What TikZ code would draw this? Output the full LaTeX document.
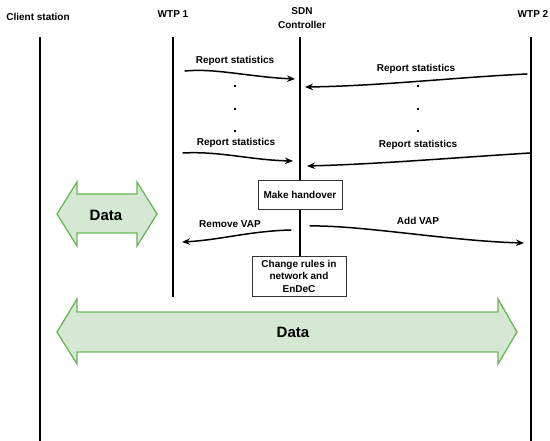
\documentclass[tikz,border=0pt]{standalone}
\usepackage{fontspec}
\setmainfont{Liberation Sans}
\usetikzlibrary{arrows.meta}

\definecolor{datafill}{RGB}{213,232,212}
\definecolor{dataline}{RGB}{106,182,87}

\begin{document}
\begin{tikzpicture}[
    x=1pt, y=-1pt,
    >={Stealth[length=8pt, width=6.5pt]},
    actor/.style={font=\fontsize{10}{14}\selectfont\bfseries, align=center},
    lifeline/.style={line width=1.6pt},
    msg/.style={->, line width=1.5pt, line cap=round},
    lbl/.style={font=\fontsize{10}{12}\selectfont\bfseries},
    proc/.style={draw=black!80, line width=0.8pt, fill=white, inner sep=0pt,
                 font=\fontsize{10}{12.5}\selectfont\bfseries, align=center},
    dot/.style={fill, inner sep=0pt, minimum size=2.6pt},
    dataarrow/.style={draw=dataline, line width=1.3pt, fill=datafill, line join=miter},
    datalbl/.style={font=\fontsize{15}{18}\selectfont\bfseries},
]
\useasboundingbox (0,0) rectangle (550,441);

% ============================ actors ====================================
\node[actor] (client) at (38,17) {Client station};
\node[actor] (wtpone) at (173,14) {WTP 1};
\node[actor] (sdn) at (302,18) {SDN\\Controller};
\node[actor] (wtptwo) at (533,14) {WTP 2};

% ============================ lifelines =================================
\coordinate (clienttop) at (40,37);  \coordinate (clientbot) at (40,441);
\coordinate (wtponetop) at (173,37); \coordinate (wtponebot) at (173,297);
\coordinate (sdntop) at (300,37);    \coordinate (sdnbot) at (300,297);
\coordinate (wtptwotop) at (531,37); \coordinate (wtptwobot) at (531,441);
\draw[lifeline] (clienttop) -- (clientbot);
\draw[lifeline] (wtponetop) -- (wtponebot);
\draw[lifeline] (sdntop) -- (sdnbot);
\draw[lifeline] (wtptwotop) -- (wtptwobot);

% ============================ report statistics =========================
\coordinate (rsla) at (185,71);  \coordinate (rslb) at (295,79);
\coordinate (rsra) at (527,74);  \coordinate (rsrb) at (305,87);
\coordinate (rslc) at (183,153); \coordinate (rsld) at (293,161);
\coordinate (rsrc) at (530,153); \coordinate (rsrd) at (307,166);

\draw[msg] (rsla) .. controls (215,68) and (250,77) .. (rslb);
\node[lbl] (rsltxt) at (235,61) {Report statistics};
\draw[msg] (rsra) .. controls (460,77) and (380,86) .. (rsrb);
\node[lbl] (rsrtxt) at (416,69) {Report statistics};

\foreach \y [count=\i] in {86,109,131} {
  \node[dot] (ldot\i) at (235,\y) {};
  \node[dot] (rdot\i) at (418,\y) {};
}

\draw[msg] (rslc) .. controls (220,151) and (250,160) .. (rsld);
\node[lbl] (rslctxt) at (236,143) {Report statistics};
\draw[msg] (rsrc) .. controls (450,158) and (380,164) .. (rsrd);
\node[lbl] (rsrctxt) at (418,145) {Report statistics};

% ============================ handover ==================================
\node[proc, minimum width=84pt, minimum height=29pt] (handover) at (300,194.5)
  {Make handover};

\coordinate (vapa) at (291,230); \coordinate (vapb) at (182,242);
\coordinate (vapc) at (310,226); \coordinate (vapd) at (524,243);
\draw[msg] (vapa) .. controls (250,231) and (220,240) .. (vapb);
\node[lbl] (rmtxt) at (230,224) {Remove VAP};
\draw[msg] (vapc) .. controls (360,225) and (450,241) .. (vapd);
\node[lbl] (addtxt) at (418,221) {Add VAP};

\node[proc, minimum width=94pt, minimum height=40pt] (rules) at (299,276)
  {Change rules in\\network and\\EnDeC};

% ============================ data flows ================================
\draw[dataarrow] (57,214) -- (77,182) -- (77,194) -- (137,194) -- (137,182)
  -- (157,214) -- (137,246) -- (137,233) -- (77,233) -- (77,246) -- cycle;
\node[datalbl] (smalldata) at (106,215) {Data};

\draw[dataarrow] (57,332) -- (77,299) -- (77,312) -- (498,312) -- (498,299)
  -- (517,332) -- (498,364) -- (498,352) -- (77,352) -- (77,364) -- cycle;
\node[datalbl] (bigdata) at (293,332) {Data};

\end{tikzpicture}
\end{document}
